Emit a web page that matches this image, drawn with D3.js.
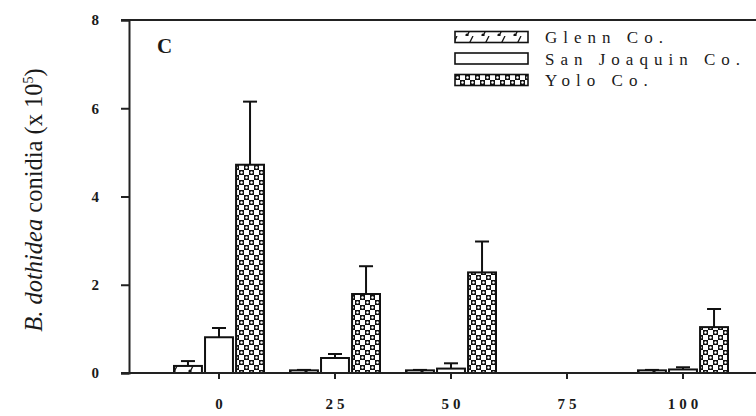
<!DOCTYPE html>
<html>
<head>
<meta charset="utf-8">
<script src="https://cdn.jsdelivr.net/npm/d3@7"></script>
<style>
  body { margin: 0; background: #fff; }
  text { font-family: "Liberation Serif", "Times New Roman", serif; fill: #1a1a1a; }
</style>
</head>
<body>
<figure id="chart" style="margin:0"></figure>
<script>
// conidia counts (x 10^5) per county
const categories = ["0", "25", "50", "75", "100"];
const series = ["Glenn Co.", "San Joaquin Co.", "Yolo Co."];
const glennValues = [0.16, 0.06, 0.06, 0, 0.06];
const glennErrors = [0.11, 0.01, 0.01, 0, 0.01];
const sanJoaquinValues = [0.81, 0.34, 0.10, 0, 0.08];
const sanJoaquinErrors = [0.21, 0.09, 0.12, 0, 0.05];
const yoloValues = [4.72, 1.79, 2.28, 0, 1.04];
const yoloErrors = [1.43, 0.63, 0.70, 0, 0.41];
const yTicks = [0, 2, 4, 6, 8];

const width = 756, height = 416;
const plotLeft = 129, plotTop = 20, plotBottom = 373;

const svg = d3.select("figure#chart")
  .append("svg")
  .attr("width", width)
  .attr("height", height);

// fill patterns
const defs = svg.append("defs");
const glennPat = defs.append("pattern")
  .attr("id", "glenn")
  .attr("patternUnits", "userSpaceOnUse")
  .attr("width", 16).attr("height", 12);
glennPat.append("rect").attr("width", 16).attr("height", 12).attr("fill", "#fff");
glennPat.append("path").attr("d", "M3,12 L9,0").attr("stroke", "#111").attr("stroke-width", 1.3);
glennPat.append("circle").attr("cx", 3).attr("cy", 11).attr("r", 1.6).attr("fill", "#111");

const yoloPat = defs.append("pattern")
  .attr("id", "yolo")
  .attr("patternUnits", "userSpaceOnUse")
  .attr("width", 10).attr("height", 10);
yoloPat.append("rect").attr("width", 10).attr("height", 10).attr("fill", "#fff");
yoloPat.append("rect").attr("x", 0).attr("y", 0).attr("width", 5).attr("height", 5).attr("fill", "#111");
yoloPat.append("rect").attr("x", 5).attr("y", 5).attr("width", 5).attr("height", 5).attr("fill", "#111");
yoloPat.append("circle").attr("cx", 2.5).attr("cy", 2.5).attr("r", 1.2).attr("fill", "#fff");
yoloPat.append("circle").attr("cx", 7.5).attr("cy", 7.5).attr("r", 1.2).attr("fill", "#fff");

const fills = ["url(#glenn)", "#fff", "url(#yolo)"];

// scales
const x = d3.scaleBand()
  .domain(categories)
  .range([161, 741])
  .padding(0);

const xInner = d3.scaleBand()
  .domain(series)
  .range([-45, 45])
  .paddingInner(0.1);

const y = d3.scaleLinear()
  .domain([0, 8])
  .range([plotBottom, plotTop]);

// frame: top line
svg.append("line")
  .attr("x1", 121).attr("x2", width)
  .attr("y1", plotTop).attr("y2", plotTop)
  .attr("stroke", "#222").attr("stroke-width", 2);

// y axis
const yAxis = svg.append("g")
  .attr("transform", "translate(" + plotLeft + ",0)")
  .call(d3.axisLeft(y).tickValues(yTicks).tickSize(8).tickPadding(22).tickFormat(d3.format("d")));
yAxis.select(".domain").attr("stroke", "#222").attr("stroke-width", 2);
yAxis.selectAll(".tick line").attr("stroke", "#222").attr("stroke-width", 2);
yAxis.selectAll("text")
  .style("font-family", "'Liberation Serif', serif")
  .style("font-size", "15px")
  .style("font-weight", "bold")
  .attr("fill", "#222");

// bars
const rows = categories.map((c, i) => ({
  cat: c,
  vals: [
    { s: series[0], v: glennValues[i], e: glennErrors[i], f: fills[0] },
    { s: series[1], v: sanJoaquinValues[i], e: sanJoaquinErrors[i], f: fills[1] },
    { s: series[2], v: yoloValues[i], e: yoloErrors[i], f: fills[2] }
  ].filter(d => d.v > 0)
}));

const groups = svg.selectAll("g.grp")
  .data(rows)
  .enter()
  .append("g")
  .attr("class", "grp")
  .attr("transform", d => "translate(" + (x(d.cat) + x.bandwidth() / 2) + ",0)");

const bars = groups.selectAll("g.bar")
  .data(d => d.vals)
  .enter()
  .append("g")
  .attr("class", "bar");

// error bars
bars.append("line")
  .attr("x1", d => xInner(d.s) + xInner.bandwidth() / 2)
  .attr("x2", d => xInner(d.s) + xInner.bandwidth() / 2)
  .attr("y1", d => y(d.v))
  .attr("y2", d => y(d.v + d.e))
  .attr("stroke", "#111").attr("stroke-width", 2);
bars.append("line")
  .attr("x1", d => xInner(d.s) + xInner.bandwidth() / 2 - 7)
  .attr("x2", d => xInner(d.s) + xInner.bandwidth() / 2 + 7)
  .attr("y1", d => y(d.v + d.e))
  .attr("y2", d => y(d.v + d.e))
  .attr("stroke", "#111").attr("stroke-width", 2);

bars.append("rect")
  .attr("x", d => xInner(d.s))
  .attr("y", d => y(d.v))
  .attr("width", xInner.bandwidth())
  .attr("height", d => plotBottom - y(d.v))
  .attr("fill", d => d.f)
  .attr("stroke", "#111")
  .attr("stroke-width", 2);

// x axis
const xAxis = svg.append("g")
  .attr("transform", "translate(0," + plotBottom + ")")
  .call(d3.axisBottom(x).tickSize(6).tickPadding(19));
xAxis.select(".domain").attr("d", "M121,0H" + width).attr("stroke", "#222").attr("stroke-width", 2);
xAxis.selectAll(".tick line").attr("stroke", "#222").attr("stroke-width", 2);
xAxis.selectAll("text")
  .style("font-family", "'Liberation Serif', serif")
  .style("font-size", "15px")
  .style("font-weight", "bold")
  .style("letter-spacing", "4px")
  .attr("dx", "2px")
  .attr("fill", "#222");

// panel letter
svg.append("text")
  .attr("x", 157).attr("y", 53)
  .style("font-size", "21px")
  .style("font-weight", "bold")
  .text("C");

// legend
const legend = svg.append("g");
series.forEach((s, i) => {
  const ly = 37 + i * 21.5;
  legend.append("rect")
    .attr("x", 455).attr("y", ly - 5.5)
    .attr("width", 73).attr("height", 11)
    .attr("fill", fills[i])
    .attr("stroke", "#111").attr("stroke-width", 1.6);
  legend.append("text")
    .attr("x", 545).attr("y", ly + 6)
    .style("font-size", "17px")
    .style("letter-spacing", "6px")
    .text(s);
});

// y axis title
const yt = svg.append("text")
  .attr("transform", "translate(42,200) rotate(-90)")
  .attr("text-anchor", "middle")
  .style("font-size", "24.5px")
  .attr("fill", "#2a2a2a");
yt.append("tspan").style("font-style", "italic").text("B. dothidea");
yt.append("tspan").text(" conidia (x 10");
yt.append("tspan").attr("dy", -9).style("font-size", "14px").text("5");
yt.append("tspan").attr("dy", 9).text(")");
</script>
</body>
</html>
